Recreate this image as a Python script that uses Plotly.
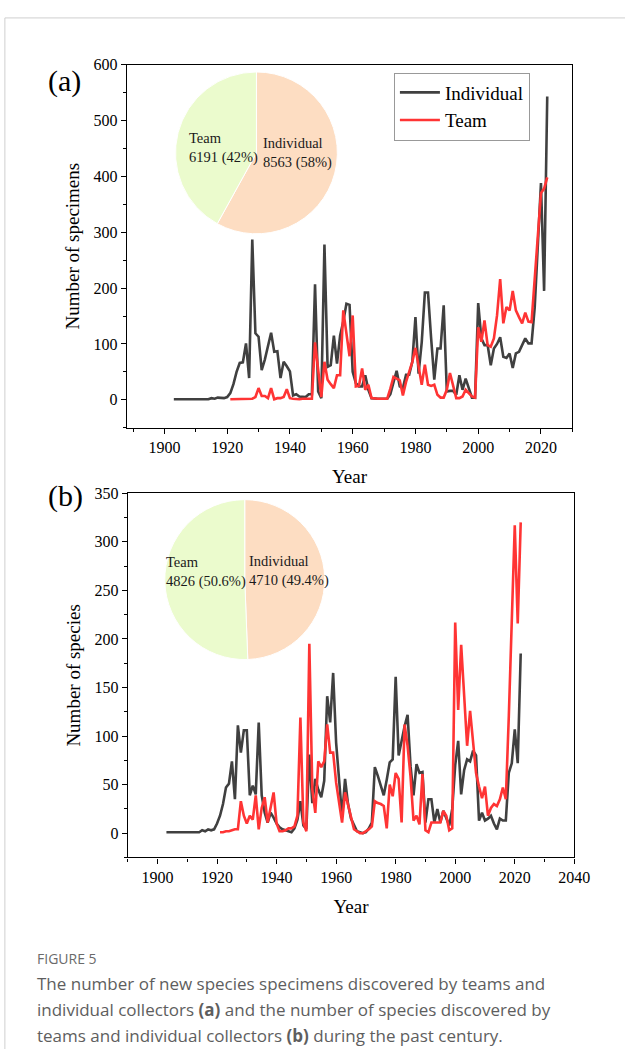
import plotly.graph_objects as go

# ---------------- data ----------------
years_ind = list(range(1903, 2023))
years_team = list(range(1921, 2023))

specimens_individual = [
    1, 1, 1, 1, 1, 1, 1, 1, 1, 1, 1, 1,            # 1903-1914
    3, 2, 4, 3, 3,                                  # 1915-1919
    5, 12, 28, 50, 66, 67, 101, 39, 287, 119,       # 1920-1929
    113, 53, 72, 95, 120, 86, 87, 39, 68, 60,       # 1930-1939
    51, 8, 10, 6, 5, 5, 10, 10, 207, 15,            # 1940-1949
    3, 278, 59, 62, 115, 65, 115, 140, 172, 170,    # 1950-1959
    50, 30, 24, 24, 44, 18, 3, 2, 2, 2,             # 1960-1969
    2, 2, 10, 30, 52, 24, 21, 45, 45, 68,           # 1970-1979
    148, 47, 103, 192, 192, 110, 36, 92, 92, 169,   # 1980-1989
    15, 16, 16, 9, 44, 18, 38, 21, 4, 4,            # 1990-1999
    173, 110, 98, 98, 62, 92, 100, 112, 77, 75,     # 2000-2009
    83, 57, 83, 86, 98, 110, 101, 101, 165, 280,    # 2010-2019
    388, 195, 543,                                  # 2020-2022
]
specimens_team = [
    1, 1, 1, 1, 1, 2, 2, 2, 5,                      # 1921-1929
    21, 7, 7, 3, 21, 1, 3, 3, 5, 19,                # 1930-1939
    3, 2, 1, 1, 2, 2, 2, 2, 103, 50,                # 1940-1949
    5, 68, 36, 28, 21, 44, 44, 160, 119, 78,        # 1950-1959
    151, 24, 25, 56, 18, 27, 3, 2, 2, 2,            # 1960-1969
    2, 2, 20, 41, 38, 35, 8, 32, 50, 68,            # 1970-1979
    93, 60, 27, 63, 27, 25, 27, 9, 4, 4,            # 1980-1989
    18, 48, 25, 3, 3, 6, 18, 12, 6, 4,              # 1990-1999
    130, 104, 142, 98, 95, 110, 151, 216, 137, 166, # 2000-2009
    160, 195, 160, 148, 137, 156, 140, 139, 215, 295,  # 2010-2019
    370, 378, 398,                                  # 2020-2022
]

species_individual = [
    1, 1, 1, 1, 1, 1, 1, 1, 1, 1, 1, 1,            # 1903-1914
    3, 2, 4, 3, 4,                                  # 1915-1919
    10, 18, 30, 47, 51, 74, 35, 111, 83, 106,       # 1920-1929
    106, 39, 49, 40, 114, 39, 21, 11, 21, 16,       # 1930-1939
    10, 6, 4, 3, 2, 1, 5, 14, 33, 8,                # 1940-1949
    4, 81, 31, 56, 45, 37, 54, 141, 114, 165,       # 1950-1959
    93, 50, 17, 56, 30, 15, 8, 2, 1, 0,             # 1960-1969
    1, 5, 11, 68, 59, 48, 39, 55, 73, 76,           # 1970-1979
    161, 80, 97, 110, 122, 69, 39, 71, 62, 63,      # 1980-1989
    11, 35, 35, 11, 25, 11, 23, 16, 8, 25,          # 1990-1999
    70, 95, 40, 65, 76, 74, 85, 80, 13, 21,         # 2000-2009
    13, 15, 18, 10, 4, 15, 13, 13, 62, 72,          # 2010-2019
    107, 72, 185,                                   # 2020-2022
]
species_team = [
    1, 1, 2, 2, 3, 4, 4, 33, 18,                    # 1921-1929
    10, 18, 14, 39, 4, 26, 37, 11, 25, 42,          # 1930-1939
    10, 2, 2, 3, 5, 5, 7, 18, 119, 11,              # 1940-1949
    2, 195, 45, 21, 74, 68, 74, 112, 83, 83,        # 1950-1959
    52, 30, 11, 42, 30, 16, 4, 2, 0, 0,             # 1960-1969
    2, 4, 7, 33, 31, 30, 28, 5, 50, 38,             # 1970-1979
    62, 56, 11, 112, 90, 58, 13, 18, 9, 61,         # 1980-1989
    3, 1, 11, 11, 11, 11, 23, 18, 3, 5,             # 1990-1999
    217, 127, 194, 137, 90, 126, 90, 62, 48, 36,    # 2000-2009
    48, 18, 26, 30, 28, 35, 47, 35, 120, 220,       # 2010-2019
    317, 216, 320,                                  # 2020-2022
]

pie_labels = ["Individual", "Team"]
pie_specimens = [8563, 6191]
pie_species = [4710, 4826]

# ---------------- style ----------------
W, H = 641, 1049
C_IND = "#404040"
C_TEAM = "#ff3434"
PIE_COLORS = ["#fdddc2", "#ebfbcd"]
SERIF = "Liberation Serif, Times New Roman, serif"
SANS = "Open Sans, Noto Sans, sans-serif"


def px(x):
    return x / W


def py(y):
    return 1 - y / H


fig = go.Figure()

# panel (a)
fig.add_trace(go.Scatter(x=years_ind, y=specimens_individual, mode="lines", name="Individual",
                         line=dict(color=C_IND, width=2.6), xaxis="x", yaxis="y"))
fig.add_trace(go.Scatter(x=years_team, y=specimens_team, mode="lines", name="Team",
                         line=dict(color=C_TEAM, width=2.6), xaxis="x", yaxis="y"))
# panel (b)
fig.add_trace(go.Scatter(x=years_ind, y=species_individual, mode="lines", name="Individual",
                         line=dict(color=C_IND, width=2.6), xaxis="x2", yaxis="y2", showlegend=False))
fig.add_trace(go.Scatter(x=years_team, y=species_team, mode="lines", name="Team",
                         line=dict(color=C_TEAM, width=2.6), xaxis="x2", yaxis="y2", showlegend=False))

# pies
fig.add_trace(go.Pie(labels=pie_labels, values=pie_specimens, sort=False, direction="clockwise",
                     rotation=0, textinfo="none", hoverinfo="label+value+percent",
                     marker=dict(colors=PIE_COLORS, line=dict(color="white", width=1)),
                     domain=dict(x=[px(180), px(346)], y=[py(229), py(63)]), showlegend=False))
fig.add_trace(go.Pie(labels=pie_labels, values=pie_species, sort=False, direction="clockwise",
                     rotation=0, textinfo="none", hoverinfo="label+value+percent",
                     marker=dict(colors=PIE_COLORS, line=dict(color="white", width=1)),
                     domain=dict(x=[px(169), px(333)], y=[py(658), py(494)]), showlegend=False))

axis_common = dict(showline=True, linecolor="black", linewidth=1.3, mirror=True,
                   ticks="outside", ticklen=5, tickwidth=1.2, tickcolor="black",
                   showgrid=False, zeroline=False,
                   tickfont=dict(family=SERIF, size=16, color="black"))

fig.update_layout(
    width=W, height=H,
    margin=dict(l=0, r=0, t=0, b=0),
    paper_bgcolor="white", plot_bgcolor="white",
    xaxis=dict(domain=[px(130), px(587)], range=[1888, 2030], dtick=20, tick0=1900,
               minor=dict(dtick=10, tick0=1890, ticks="outside", ticklen=3, tickcolor="black"),
               title=dict(text="Year", font=dict(family=SERIF, size=19, color="black"), standoff=14),
               anchor="y", **axis_common),
    yaxis=dict(domain=[py(423), py(57)], range=[-50, 600], dtick=100, tick0=0,
               minor=dict(dtick=50, tick0=0, ticks="outside", ticklen=3, tickcolor="black"),
               title=dict(text="Number of specimens", font=dict(family=SERIF, size=19, color="black"), standoff=8),
               anchor="x", **axis_common),
    xaxis2=dict(domain=[px(131), px(589)], range=[1890, 2040], dtick=20, tick0=1900,
                minor=dict(dtick=10, tick0=1890, ticks="outside", ticklen=3, tickcolor="black"),
                title=dict(text="Year", font=dict(family=SERIF, size=19, color="black"), standoff=14),
                anchor="y2", **axis_common),
    yaxis2=dict(domain=[py(856), py(489)], range=[-25, 350], dtick=50, tick0=0,
                minor=dict(dtick=25, tick0=0, ticks="outside", ticklen=3, tickcolor="black"),
                title=dict(text="Number of species", font=dict(family=SERIF, size=19, color="black"), standoff=8),
                anchor="x2", **axis_common),
    legend=dict(x=px(404), y=py(65), xanchor="left", yanchor="top",
                bgcolor="white", bordercolor="#999999", borderwidth=1,
                font=dict(family=SERIF, size=19, color="black"),
                itemwidth=40, tracegroupgap=0),
    showlegend=True,
)

ann = []
# panel letters
ann.append(dict(text="(a)", x=px(47), y=py(74), xref="paper", yref="paper", xanchor="left", yanchor="middle",
                showarrow=False, font=dict(family=SERIF, size=30, color="black")))
ann.append(dict(text="(b)", x=px(47), y=py(492), xref="paper", yref="paper", xanchor="left", yanchor="middle",
                showarrow=False, font=dict(family=SERIF, size=30, color="black")))
# pie labels
PIE_FONT = dict(family=SERIF, size=14.5, color="#1a1a1a")
ann.append(dict(text="Team<br>6191 (42%)", x=px(192), y=py(141), xref="paper", yref="paper",
                xanchor="left", yanchor="middle", align="left", showarrow=False, font=PIE_FONT))
ann.append(dict(text="Individual<br>8563 (58%)", x=px(268), y=py(146), xref="paper", yref="paper",
                xanchor="left", yanchor="middle", align="left", showarrow=False, font=PIE_FONT))
ann.append(dict(text="Team<br>4826 (50.6%)", x=px(168), y=py(568), xref="paper", yref="paper",
                xanchor="left", yanchor="middle", align="left", showarrow=False, font=PIE_FONT))
ann.append(dict(text="Individual<br>4710 (49.4%)", x=px(253), y=py(567), xref="paper", yref="paper",
                xanchor="left", yanchor="middle", align="left", showarrow=False, font=PIE_FONT))
# caption
ann.append(dict(text="FIGURE 5", x=px(36), y=py(958), xref="paper", yref="paper", xanchor="left",
                yanchor="middle", showarrow=False, font=dict(family=SANS, size=14, color="#6a6a6a")))
cap_lines = [
    "The number of new species specimens discovered by teams and",
    "individual collectors <b>(a)</b> and the number of species discovered by",
    "teams and individual collectors <b>(b)</b> during the past century.",
]
for i, line in enumerate(cap_lines):
    ann.append(dict(text=line, x=px(36), y=py(983 + 26 * i), xref="paper", yref="paper", xanchor="left",
                    yanchor="middle", showarrow=False, font=dict(family=SANS, size=17, color="#5e5e5e")))
fig.update_layout(annotations=ann)

# card border
fig.update_layout(shapes=[
    dict(type="line", xref="paper", yref="paper", x0=px(5), x1=1.0, y0=py(10), y1=py(10),
         line=dict(color="#cfcfcf", width=1)),
    dict(type="line", xref="paper", yref="paper", x0=px(5), x1=px(5), y0=py(10), y1=0,
         line=dict(color="#cfcfcf", width=1)),
])

fig.write_html(
    "out.html",
    config={"displayModeBar": False},
    post_script="document.body.style.margin='0';document.body.style.overflow='hidden';",
)
